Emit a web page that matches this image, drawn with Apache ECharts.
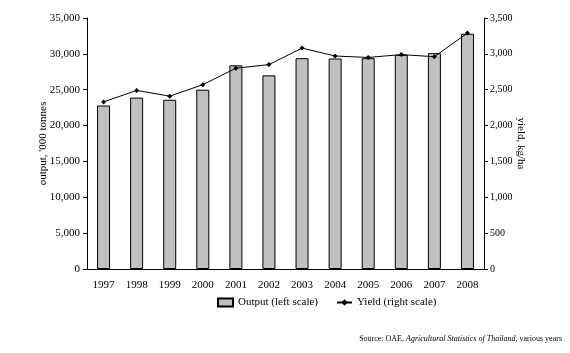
<!DOCTYPE html>
<html>
<head>
<meta charset="utf-8">
<script src="https://cdn.jsdelivr.net/npm/echarts@6/dist/echarts.min.js"></script>
<style>
  html, body { margin: 0; padding: 0; background: #fff; }
  #mychart { width: 570px; height: 353px; }
</style>
</head>
<body>
<div id="mychart"></div>
<script>
"use strict";
const years = ['1997', '1998', '1999', '2000', '2001', '2002', '2003', '2004', '2005', '2006', '2007', '2008'];
const output = [22800, 23900, 23600, 25000, 28400, 27000, 29400, 29350, 29400, 29850, 30100, 32800];
const yieldKg = [2330, 2490, 2410, 2570, 2800, 2850, 3080, 2970, 2950, 2990, 2960, 3290];

const font = 'Liberation Serif';
const container = document.getElementById('mychart');
const myChart = echarts.init(container);

const option = {
    animation: false,
    grid: { left: 87, right: 86, top: 18, bottom: 84 },
    legend: {
        top: 292,
        left: 212,
        itemGap: 18,
        itemWidth: 15,
        itemHeight: 8,
        textStyle: { fontFamily: font, fontSize: 11, color: '#000' },
        data: [
            { name: 'Output (left scale)', icon: 'rect' },
            { name: 'Yield (right scale)' }
        ]
    },
    xAxis: {
        type: 'category',
        data: years,
        axisLine: { lineStyle: { color: '#000', width: 1 } },
        axisTick: { show: false },
        axisLabel: { color: '#000', fontFamily: font, fontSize: 11, margin: 11 }
    },
    yAxis: [
        {
            type: 'value',
            min: 0,
            max: 35000,
            interval: 5000,
            name: "output, '000 tonnes",
            nameLocation: 'middle',
            nameMoveOverlap: false,
            nameGap: 38,
            nameTextStyle: { fontFamily: font, fontSize: 11, color: '#000' },
            splitLine: { show: false },
            axisLine: { show: true, lineStyle: { color: '#000' } },
            axisTick: { show: true, length: 4, lineStyle: { color: '#000' } },
            axisLabel: {
                color: '#000', fontFamily: font, fontSize: 11, margin: 7,
                formatter: v => v.toLocaleString('en-US')
            }
        },
        {
            type: 'value',
            min: 0,
            max: 3500,
            interval: 500,
            position: 'right',
            name: 'yield, kg/ha',
            nameLocation: 'middle',
            nameMoveOverlap: false,
            nameRotate: -90,
            nameGap: 31,
            nameTextStyle: { fontFamily: font, fontSize: 11, color: '#000' },
            splitLine: { show: false },
            axisLine: { show: true, lineStyle: { color: '#000' } },
            axisTick: { show: true, length: 4, lineStyle: { color: '#000' } },
            axisLabel: {
                color: '#000', fontFamily: font, fontSize: 10, margin: 6,
                formatter: v => v.toLocaleString('en-US')
            }
        }
    ],
    series: [
        {
            name: 'Output (left scale)',
            type: 'bar',
            data: output,
            barWidth: 13,
            itemStyle: { color: '#c0c0c0', borderColor: '#000', borderWidth: 1 }
        },
        {
            name: 'Yield (right scale)',
            type: 'line',
            yAxisIndex: 1,
            data: yieldKg,
            symbol: 'diamond',
            symbolSize: 5,
            lineStyle: { color: '#000', width: 1 },
            itemStyle: { color: '#000' }
        }
    ],
    graphic: [
        {
            type: 'text',
            right: 8,
            top: 335,
            style: {
                text: 'Source: OAE, {i|Agricultural Statistics of Thailand}, various years',
                fontFamily: font,
                fontSize: 8,
                fill: '#000',
                rich: { i: { fontStyle: 'italic', fontFamily: font, fontSize: 8 } }
            }
        }
    ]
};
myChart.setOption(option);
</script>
</body>
</html>
